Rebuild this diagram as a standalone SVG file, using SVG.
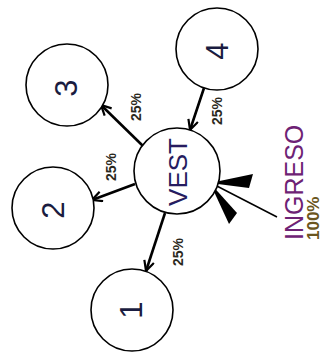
<svg xmlns="http://www.w3.org/2000/svg" width="327" height="356" viewBox="0 0 327 356">
<defs>
<marker id="open" viewBox="0 0 12 12" refX="11" refY="6" markerWidth="12" markerHeight="12" markerUnits="userSpaceOnUse" orient="auto">
<path d="M1,1 L11,6 L1,11" fill="none" stroke="#000" stroke-width="2.2"/>
</marker>
</defs>
<style>
.node{fill:#fff;stroke:#000;stroke-width:1.6}
.edge{stroke:#000;stroke-width:2.6;fill:none;marker-end:url(#open)}
.num{font-family:"Liberation Sans",Arial,sans-serif;font-size:31px;fill:#1a1c40;text-anchor:middle}
.pct{font-family:"Liberation Sans",Arial,sans-serif;font-size:14px;font-weight:bold;fill:#2a2820;text-anchor:middle}
</style>
<rect width="327" height="356" fill="#fff"/>
<g id="connectors">
<line class="edge" x1="143" y1="146" x2="101" y2="105"/>
<line class="edge" x1="135" y1="184" x2="92" y2="200"/>
<line class="edge" x1="165" y1="213" x2="146" y2="271"/>
<line class="edge" x1="204" y1="88" x2="190" y2="130"/>
<g id="ingreso-arrow">
<line x1="277" y1="217" x2="211" y2="183" stroke="#000" stroke-width="1.5"/>
<polygon points="210,183 253,174 249,188" fill="#000"/>
<polygon points="210,183 237,213 229,224" fill="#000"/>
</g>
</g>
<g id="node-vest">
<circle class="node" cx="177" cy="171" r="43"/>
<text transform="translate(177.5,172) rotate(-90)" x="0" y="9.3" font-family="'Liberation Sans',Arial,sans-serif" font-size="26" fill="#261c60" text-anchor="middle">VEST</text>
</g>
<g id="node-1">
<circle class="node" cx="132" cy="310" r="41"/>
<text class="num" transform="translate(131,310) rotate(-90)" x="0" y="11">1</text>
</g>
<g id="node-2">
<circle class="node" cx="53" cy="208" r="41"/>
<text class="num" transform="translate(53,210) rotate(-90)" x="0" y="11">2</text>
</g>
<g id="node-3">
<circle class="node" cx="67" cy="85" r="41"/>
<text class="num" transform="translate(66,88) rotate(-90)" x="0" y="11">3</text>
</g>
<g id="node-4">
<circle class="node" cx="217" cy="49" r="41"/>
<text class="num" transform="translate(217,51) rotate(-90)" x="0" y="11">4</text>
</g>
<g id="labels">
<text class="pct" transform="translate(136,107) rotate(-90)" x="0" y="5">25%</text>
<text class="pct" transform="translate(111,167) rotate(-90)" x="0" y="5">25%</text>
<text class="pct" transform="translate(178,252) rotate(-90)" x="0" y="5">25%</text>
<text class="pct" transform="translate(217,111) rotate(-90)" x="0" y="5">25%</text>
</g>
<g id="ingreso">
<text transform="translate(294,240) rotate(-90)" x="0" y="9" font-family="'Liberation Sans',Arial,sans-serif" font-size="25" fill="#6e2274">INGRESO</text>
<text transform="translate(313,240) rotate(-90)" x="0" y="6" font-family="'Liberation Sans',Arial,sans-serif" font-size="17" font-weight="bold" fill="#6a5520">100%</text>
</g>
</svg>
